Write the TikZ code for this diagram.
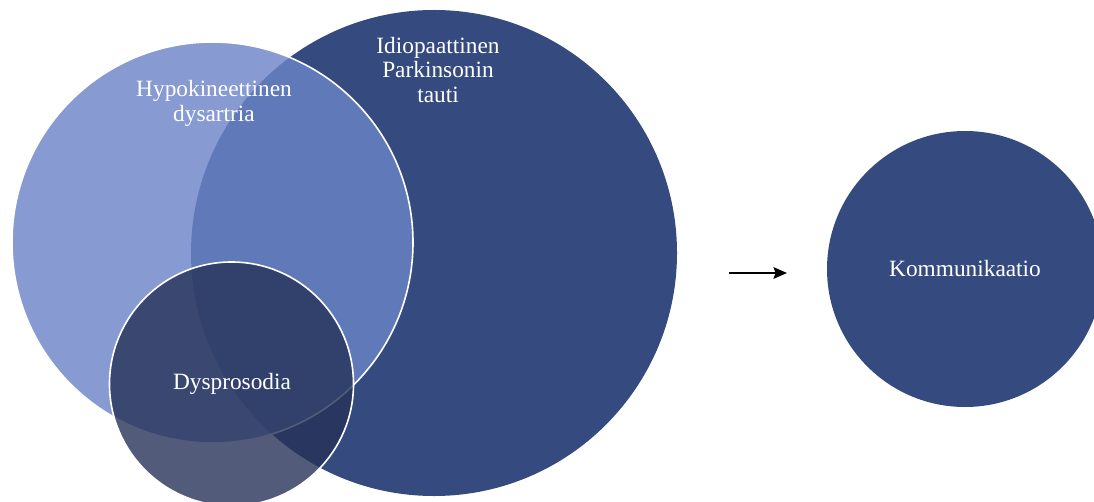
\documentclass[tikz,border=0pt]{standalone}
\usepackage{fontspec}
\setmainfont{Liberation Serif}
\usetikzlibrary{positioning,arrows.meta}

\definecolor{darkblue}{RGB}{53,74,126}
\definecolor{lightblue}{RGB}{107,132,199}
\definecolor{deepblue}{RGB}{39,51,89}

\begin{document}
\begin{tikzpicture} [x=0.75pt,y=-0.75pt,>={Stealth[length=10pt,width=8.5pt,inset=1.5pt]},
			set/.style={circle,inner sep=0pt,outer sep=0pt},
			main set/.style={set,fill=darkblue},
			sub set/.style={set,draw=white,line width=1.2pt,fill opacity=0.81},
			set text/.style={text=white,align=center,font=\fontsize{17.5}{18.6}\selectfont}]

		\clip (0,0) rectangle (1094,502);

		\node [main set, minimum size=364.5pt] (parkinson) at (434,253) {};
		\node [sub set, fill=lightblue, minimum size=300.75pt] (dysartria) at (212.5,242.5) {};
		\node [sub set, fill=deepblue, fill opacity=0.8, minimum size=183pt] (dysprosodia) at (231.5,384) {};
		\node [main set, minimum size=207pt] (kommunikaatio) at (965,269) {};

		\node [set text] (parkinson text) at (438,70) {Idiopaattinen\\Parkinsonin\\tauti};
		\node [set text] (dysartria text) at (214,103.5) {Hypokineettinen\\dysartria};
		\node [set text] (dysprosodia text) at (232,384) {Dysprosodia};
		\node [set text] (kommunikaatio text) at (kommunikaatio) {Kommunikaatio};

		\coordinate (arrow start) at (729,273);
		\coordinate (arrow end) at (787,273);
		\draw [->,line width=2.1pt] (arrow start) -- (arrow end);
		\end{tikzpicture}
\end{document}
